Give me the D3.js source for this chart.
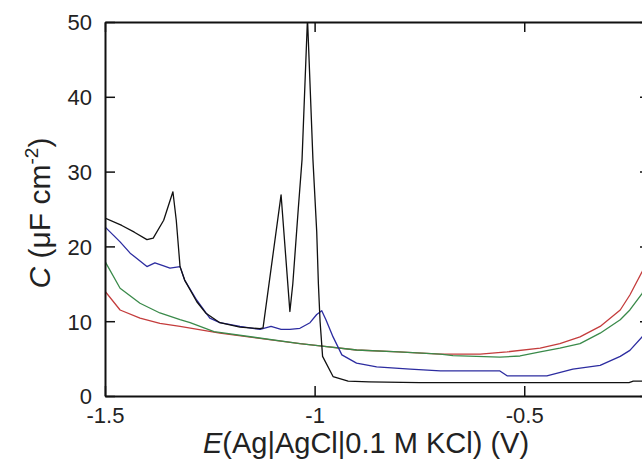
<!DOCTYPE html>
<html>
<head>
<meta charset="utf-8">
<script src="https://cdn.jsdelivr.net/npm/d3@7/dist/d3.min.js"></script>
<style>
  html, body { margin: 0; padding: 0; background: #fff; }
  svg { display: block; }
  text { font-family: "Liberation Sans", Arial, sans-serif; fill: #222; }
</style>
</head>
<body>
<svg id="chart" width="642" height="459"></svg>
<script>
// ---- data (E in V, C in µF cm^-2) ----
const xTicks = [-1.5, -1, -0.5];
const xTickLabels = ["-1.5", "-1", "-0.5"];
const yTicks = [0, 10, 20, 30, 40, 50];
const yTickLabels = ["0", "10", "20", "30", "40", "50"];

const seriesNames = ["red", "green", "blue", "black"];

const redData = [[-1.5,14.0],[-1.464,11.5],[-1.4165,10.4],[-1.369,9.7],[-1.321,9.3],[-1.226,8.4],
  [-1.035,7.0],[-0.987,6.7],[-0.90,6.15],[-0.80,5.9],[-0.70,5.6],[-0.605,5.6],[-0.541,5.9],
  [-0.462,6.4],[-0.415,7.0],[-0.367,7.9],[-0.319,9.3],[-0.271,11.5],[-0.248,13.5],[-0.219,16.6],[-0.2,18.8]];

const greenData = [[-1.5,18.0],[-1.464,14.4],[-1.4165,12.4],[-1.369,11.1],[-1.321,10.2],[-1.297,9.8],
  [-1.24,8.6],[-1.035,7.0],[-0.987,6.7],[-0.90,6.15],[-0.80,5.9],[-0.70,5.6],[-0.67,5.4],
  [-0.558,5.2],[-0.51,5.35],[-0.462,5.9],[-0.415,6.4],[-0.367,7.0],[-0.319,8.4],[-0.271,10.2],
  [-0.248,11.5],[-0.219,13.7],[-0.2,15.5]];

const blueData = [[-1.5,22.6],[-1.464,20.6],[-1.44,19.1],[-1.40,17.3],[-1.381,17.8],[-1.36,17.4],
  [-1.345,17.1],[-1.321,17.3],[-1.31,15.5],[-1.281,12.8],[-1.25,10.4],[-1.226,9.8],[-1.178,9.3],
  [-1.13,8.9],[-1.104,9.3],[-1.08,8.9],[-1.059,8.9],[-1.035,9.05],[-1.011,9.8],[-0.995,10.9],[-0.983,11.4],
  [-0.973,10.2],[-0.956,7.9],[-0.935,5.5],[-0.90,4.4],[-0.852,3.9],[-0.772,3.6],[-0.70,3.35],
  [-0.558,3.35],[-0.541,2.7],[-0.446,2.7],[-0.384,3.6],[-0.319,4.1],[-0.271,5.3],[-0.248,6.1],
  [-0.219,7.9],[-0.2,9.5]];

const blackData = [[-1.5,23.8],[-1.46,22.8],[-1.43,21.9],[-1.40,20.9],[-1.385,21.1],[-1.36,23.5],
  [-1.338,27.3],[-1.33,23.5],[-1.321,17.3],[-1.31,15.5],[-1.281,12.6],[-1.26,11.1],[-1.226,9.8],
  [-1.178,9.2],[-1.13,9.0],[-1.123,9.1],[-1.08,26.9],[-1.059,11.3],[-1.052,15],[-1.039,25],
  [-1.030,31.6],[-1.017,50.5],[-1.004,31.6],[-0.995,22],[-0.991,15],[-0.987,10],[-0.981,5.3],
  [-0.956,2.6],[-0.92,2.0],[-0.87,1.9],[-0.75,1.8],[-0.6,1.8],[-0.25,1.8],[-0.24,2.0],[-0.2,2.0]];

const seriesData = [redData, greenData, blueData, blackData];
const seriesColors = ["#c43c3c", "#3a8a4a", "#2c2ca0", "#111111"];

(function () {
  // ---- layout ----
  const svg = d3.select("#chart");
  const mLeft = 105, mRight = 650, mTop = 22, mBottom = 396;
  const x = d3.scaleLinear().domain([-1.5, -0.2]).range([mLeft, mRight]);
  const y = d3.scaleLinear().domain([0, 50]).range([mBottom, mTop]);

  svg.append("defs").append("clipPath").attr("id", "clip")
    .append("rect").attr("x", mLeft).attr("y", mTop).attr("width", mRight - mLeft).attr("height", mBottom - mTop);

  // lines
  const line = d3.line().x(d => x(d[0])).y(d => y(d[1]));
  const g = svg.append("g").attr("clip-path", "url(#clip)");
  seriesData.forEach((data, i) => {
    g.append("path").datum(data)
      .attr("d", line)
      .attr("fill", "none")
      .attr("stroke", seriesColors[i])
      .attr("stroke-width", 1.3)
      .attr("stroke-linejoin", "round");
  });

  // axes (ticks inward, mirrored)
  const tickLen = 10;
  const axisStyle = sel => {
    sel.select(".domain").attr("stroke", "#111").attr("stroke-width", 2);
    sel.selectAll(".tick line").attr("stroke", "#111").attr("stroke-width", 1.5);
  };
  const bottomAx = svg.append("g").attr("transform", `translate(0,${mBottom})`)
    .call(d3.axisBottom(x).tickValues(xTicks).tickSizeInner(-tickLen).tickSizeOuter(0)
      .tickFormat((d, i) => xTickLabels[i]));
  bottomAx.call(axisStyle);
  bottomAx.selectAll(".tick text").attr("font-size", 22).attr("dy", 0).attr("y", 27).attr("fill", "#222");

  const topAx = svg.append("g").attr("transform", `translate(0,${mTop})`)
    .call(d3.axisTop(x).tickValues(xTicks).tickSizeInner(-tickLen).tickSizeOuter(0).tickFormat(""));
  topAx.call(axisStyle);

  const leftAx = svg.append("g").attr("transform", `translate(${mLeft},0)`)
    .call(d3.axisLeft(y).tickValues(yTicks).tickSizeInner(-tickLen).tickSizeOuter(0)
      .tickFormat((d, i) => yTickLabels[i]));
  leftAx.call(axisStyle);
  leftAx.selectAll(".tick text").attr("font-size", 22).attr("x", -13).attr("dy", "0.36em").attr("fill", "#222");

  const rightAx = svg.append("g").attr("transform", `translate(${mRight},0)`)
    .call(d3.axisRight(y).tickValues(yTicks).tickSizeInner(-tickLen).tickSizeOuter(0).tickFormat(""));
  rightAx.call(axisStyle);

  // axis titles
  const xt = svg.append("text").attr("x", 366).attr("y", 453).attr("text-anchor", "middle").attr("font-size", 29);
  xt.append("tspan").attr("font-style", "italic").text("E");
  xt.append("tspan").text("(Ag|AgCl|0.1 M KCl) (V)");

  const yt = svg.append("text").attr("transform", "translate(50,213) rotate(-90)")
    .attr("text-anchor", "middle").attr("font-size", 30);
  yt.append("tspan").attr("font-style", "italic").text("C");
  yt.append("tspan").text(" (μF cm");
  yt.append("tspan").attr("font-size", 19).attr("dy", -12).text("-2");
  yt.append("tspan").attr("dy", 12).text(")");
})();
</script>
</body>
</html>
